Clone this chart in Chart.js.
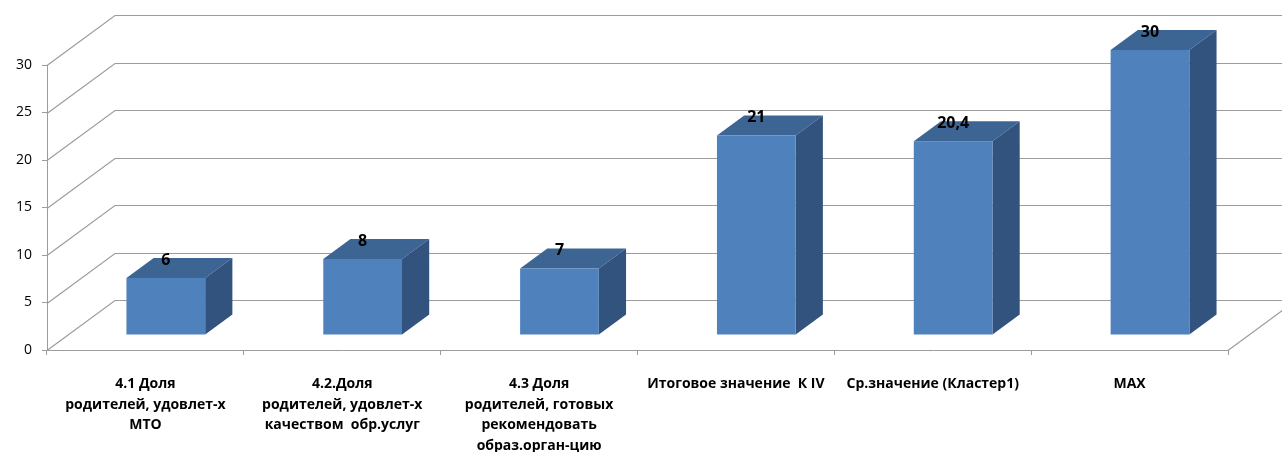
<!DOCTYPE html>
<html>
<head>
<meta charset="utf-8">
<script src="https://cdn.jsdelivr.net/npm/chart.js@4"></script>
<style>
  html, body { margin: 0; padding: 0; background: #fff; }
</style>
</head>
<body>
<canvas id="chart" width="1282" height="452"></canvas>
<script>
const categories = [
  ['4.1 Доля', 'родителей, удовлет-х', 'МТО'],
  ['4.2.Доля', 'родителей, удовлет-х', 'качеством  обр.услуг'],
  ['4.3 Доля', 'родителей, готовых', 'рекомендовать', 'образ.орган-цию'],
  'Итоговое значение  К IV',
  'Ср.значение (Кластер1)',
  'MAX'
];
const values = [6, 8, 7, 21, 20.4, 30];
const yTicks = [0, 5, 10, 15, 20, 25, 30];

// oblique 3d look, Excel style
const DX = 68, DY = -50;
const BAR_FRONT = 0.3, BAR_DEPTH = 0.4;
const GRID = '#9c9c9c';
const FONT = '"Open Sans", "Liberation Sans", sans-serif';

const walls = {
  id: 'walls',
  beforeDatasetsDraw(chart) {
    const { ctx, chartArea: a, scales: { y } } = chart;
    ctx.save();
    ctx.strokeStyle = GRID;
    ctx.lineWidth = 1.2;
    yTicks.forEach(v => {
      const py = Math.round(y.getPixelForValue(v)) + 0.5;
      ctx.beginPath();
      ctx.moveTo(a.left, py);
      ctx.lineTo(a.left + DX, py + DY);
      ctx.lineTo(chart.width + 10, py + DY);
      ctx.stroke();
    });
    const p0 = Math.round(y.getPixelForValue(0)) + 0.5;
    ctx.beginPath();
    ctx.moveTo(a.right, p0);
    ctx.lineTo(a.right + DX, p0 + DY);
    ctx.stroke();
    ctx.restore();
  }
};

const bars3d = {
  id: 'bars3d',
  afterDatasetsDraw(chart) {
    const ctx = chart.ctx;
    const meta = chart.getDatasetMeta(0);
    const fx = DX * BAR_FRONT, fy = DY * BAR_FRONT;
    const bx = DX * BAR_DEPTH, by = DY * BAR_DEPTH;
    ctx.save();
    meta.data.forEach((bar, i) => {
      const L = bar.x - bar.width / 2 + fx, R = bar.x + bar.width / 2 + fx;
      const T = bar.y + fy, B = bar.base + fy;
      // top
      ctx.fillStyle = '#3d6593';
      ctx.beginPath();
      ctx.moveTo(L, T); ctx.lineTo(R, T); ctx.lineTo(R + bx, T + by); ctx.lineTo(L + bx, T + by);
      ctx.closePath(); ctx.fill();
      // side
      ctx.fillStyle = '#32537e';
      ctx.beginPath();
      ctx.moveTo(R, T); ctx.lineTo(R + bx, T + by); ctx.lineTo(R + bx, B + by); ctx.lineTo(R, B);
      ctx.closePath(); ctx.fill();
      // front
      ctx.fillStyle = '#4f81bd';
      ctx.fillRect(L, T, R - L, B - T);

      ctx.fillStyle = '#000';
      ctx.font = 'bold 16px ' + FONT;
      ctx.textAlign = 'center';
      ctx.textBaseline = 'middle';
      ctx.fillText(String(values[i]).replace('.', ','), bar.x + fx, T + by + 2);
    });
    ctx.restore();
  }
};

new Chart(document.getElementById('chart'), {
  type: 'bar',
  data: {
    labels: categories,
    datasets: [{
      data: values,
      backgroundColor: 'rgba(0,0,0,0)',
      barPercentage: 0.4,
      categoryPercentage: 1
    }]
  },
  options: {
    responsive: false,
    animation: false,
    devicePixelRatio: 1,
    layout: { padding: { top: 65, right: 54, left: 0, bottom: 0 } },
    plugins: { legend: { display: false }, tooltip: { enabled: false } },
    scales: {
      x: {
        grid: { offset: true, drawOnChartArea: false, tickLength: 5, color: GRID },
        border: { color: GRID },
        ticks: {
          maxRotation: 0, autoSkip: false, padding: 19, color: '#000',
          font: { family: FONT, size: 14, weight: 'bold', lineHeight: 1.47 }
        },
        afterFit: s => { s.height = 102; }
      },
      y: {
        min: 0, max: 30,
        grid: { drawOnChartArea: false, tickLength: 5, color: GRID },
        border: { color: GRID },
        ticks: { stepSize: 5, padding: 10, color: '#000', font: { family: FONT, size: 14 } },
        afterFit: s => { s.width = 47; }
      }
    }
  },
  plugins: [walls, bars3d]
});
</script>
</body>
</html>
